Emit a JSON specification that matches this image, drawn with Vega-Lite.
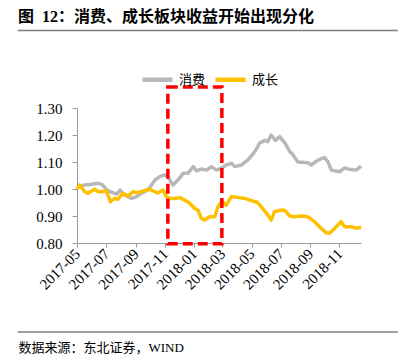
{
  "$schema": "https://vega.github.io/schema/vega-lite/v6.json",
  "width": 284,
  "height": 135,
  "autosize": {"type": "none"},
  "padding": {"left": 77, "top": 108, "right": 48, "bottom": 118},
  "background": "white",
  "title": {
    "text": "图\u00a0\u00a012：消费、成长板块收益开始出现分化",
    "anchor": "start",
    "frame": "group",
    "dx": -59,
    "offset": 5,
    "font": "Liberation Serif, Noto Sans CJK SC",
    "fontSize": 16,
    "fontWeight": "bold",
    "color": "#000000"
  },
  "config": {
    "view": {"stroke": null},
    "axis": {"grid": false, "domainColor": "#9a9a9a", "tickColor": "#9a9a9a", "labelColor": "#000000", "labelFont": "Liberation Serif", "labelFontSize": 15, "labelOverlap": false}
  },
  "data": {
    "values": [
      {"d": "2017/05/01", "s": "消费", "v": 1.005},
      {"d": "2017/05/08", "s": "消费", "v": 1.01},
      {"d": "2017/05/17", "s": "消费", "v": 1.015},
      {"d": "2017/05/31", "s": "消费", "v": 1.018},
      {"d": "2017/06/14", "s": "消费", "v": 1.021},
      {"d": "2017/06/21", "s": "消费", "v": 1.018},
      {"d": "2017/06/26", "s": "消费", "v": 1.01},
      {"d": "2017/07/02", "s": "消费", "v": 0.996},
      {"d": "2017/07/09", "s": "消费", "v": 0.99},
      {"d": "2017/07/16", "s": "消费", "v": 0.986},
      {"d": "2017/07/23", "s": "消费", "v": 0.981},
      {"d": "2017/07/30", "s": "消费", "v": 0.996},
      {"d": "2017/08/05", "s": "消费", "v": 0.985},
      {"d": "2017/08/09", "s": "消费", "v": 0.978},
      {"d": "2017/08/15", "s": "消费", "v": 0.972},
      {"d": "2017/08/23", "s": "消费", "v": 0.965},
      {"d": "2017/09/02", "s": "消费", "v": 0.971},
      {"d": "2017/09/13", "s": "消费", "v": 0.984},
      {"d": "2017/09/23", "s": "消费", "v": 0.994},
      {"d": "2017/09/30", "s": "消费", "v": 1.005},
      {"d": "2017/10/11", "s": "消费", "v": 1.033},
      {"d": "2017/10/21", "s": "消费", "v": 1.046},
      {"d": "2017/10/31", "s": "消费", "v": 1.052},
      {"d": "2017/11/07", "s": "消费", "v": 1.045},
      {"d": "2017/11/11", "s": "消费", "v": 1.033},
      {"d": "2017/11/18", "s": "消费", "v": 1.015},
      {"d": "2017/11/28", "s": "消费", "v": 1.033},
      {"d": "2017/12/09", "s": "消费", "v": 1.058},
      {"d": "2017/12/19", "s": "消费", "v": 1.058},
      {"d": "2017/12/30", "s": "消费", "v": 1.083},
      {"d": "2018/01/06", "s": "消费", "v": 1.067},
      {"d": "2018/01/16", "s": "消费", "v": 1.074},
      {"d": "2018/01/27", "s": "消费", "v": 1.07},
      {"d": "2018/02/06", "s": "消费", "v": 1.083},
      {"d": "2018/02/17", "s": "消费", "v": 1.07},
      {"d": "2018/02/27", "s": "消费", "v": 1.077},
      {"d": "2018/03/09", "s": "消费", "v": 1.089},
      {"d": "2018/03/20", "s": "消费", "v": 1.095},
      {"d": "2018/03/27", "s": "消费", "v": 1.083},
      {"d": "2018/04/10", "s": "消费", "v": 1.089},
      {"d": "2018/04/23", "s": "消费", "v": 1.107},
      {"d": "2018/05/08", "s": "消费", "v": 1.138},
      {"d": "2018/05/18", "s": "消费", "v": 1.17},
      {"d": "2018/05/29", "s": "消费", "v": 1.18},
      {"d": "2018/06/04", "s": "消费", "v": 1.175},
      {"d": "2018/06/11", "s": "消费", "v": 1.2},
      {"d": "2018/06/20", "s": "消费", "v": 1.18},
      {"d": "2018/06/29", "s": "消费", "v": 1.194},
      {"d": "2018/07/10", "s": "消费", "v": 1.17},
      {"d": "2018/07/20", "s": "消费", "v": 1.138},
      {"d": "2018/07/24", "s": "消费", "v": 1.133},
      {"d": "2018/08/06", "s": "消费", "v": 1.1},
      {"d": "2018/08/27", "s": "消费", "v": 1.097},
      {"d": "2018/09/03", "s": "消费", "v": 1.089},
      {"d": "2018/09/17", "s": "消费", "v": 1.107},
      {"d": "2018/10/01", "s": "消费", "v": 1.117},
      {"d": "2018/10/08", "s": "消费", "v": 1.1},
      {"d": "2018/10/15", "s": "消费", "v": 1.07},
      {"d": "2018/11/01", "s": "消费", "v": 1.064},
      {"d": "2018/11/12", "s": "消费", "v": 1.078},
      {"d": "2018/11/24", "s": "消费", "v": 1.072},
      {"d": "2018/12/06", "s": "消费", "v": 1.07},
      {"d": "2018/12/16", "s": "消费", "v": 1.085},
      {"d": "2017/05/01", "s": "成长", "v": 1.0},
      {"d": "2017/05/07", "s": "成长", "v": 1.015},
      {"d": "2017/05/17", "s": "成长", "v": 0.99},
      {"d": "2017/05/24", "s": "成长", "v": 0.984},
      {"d": "2017/06/07", "s": "成长", "v": 0.999},
      {"d": "2017/06/14", "s": "成长", "v": 0.99},
      {"d": "2017/06/24", "s": "成长", "v": 0.99},
      {"d": "2017/07/01", "s": "成长", "v": 0.994},
      {"d": "2017/07/10", "s": "成长", "v": 0.953},
      {"d": "2017/07/19", "s": "成长", "v": 0.965},
      {"d": "2017/07/26", "s": "成长", "v": 0.962},
      {"d": "2017/08/05", "s": "成长", "v": 0.984},
      {"d": "2017/08/16", "s": "成长", "v": 0.974},
      {"d": "2017/08/26", "s": "成长", "v": 0.99},
      {"d": "2017/09/05", "s": "成长", "v": 0.986},
      {"d": "2017/09/19", "s": "成长", "v": 0.994},
      {"d": "2017/09/30", "s": "成长", "v": 0.999},
      {"d": "2017/10/17", "s": "成长", "v": 0.985},
      {"d": "2017/10/28", "s": "成长", "v": 0.996},
      {"d": "2017/11/04", "s": "成长", "v": 0.971},
      {"d": "2017/11/11", "s": "成长", "v": 0.965},
      {"d": "2017/11/21", "s": "成长", "v": 0.965},
      {"d": "2017/12/02", "s": "成长", "v": 0.968},
      {"d": "2017/12/12", "s": "成长", "v": 0.959},
      {"d": "2017/12/23", "s": "成长", "v": 0.947},
      {"d": "2018/01/02", "s": "成长", "v": 0.928},
      {"d": "2018/01/09", "s": "成长", "v": 0.922},
      {"d": "2018/01/16", "s": "成长", "v": 0.891},
      {"d": "2018/01/23", "s": "成长", "v": 0.885},
      {"d": "2018/02/02", "s": "成长", "v": 0.897},
      {"d": "2018/02/13", "s": "成长", "v": 0.897},
      {"d": "2018/02/20", "s": "成长", "v": 0.935},
      {"d": "2018/02/28", "s": "成长", "v": 0.955},
      {"d": "2018/03/09", "s": "成长", "v": 0.94},
      {"d": "2018/03/20", "s": "成长", "v": 0.972},
      {"d": "2018/04/02", "s": "成长", "v": 0.969},
      {"d": "2018/04/17", "s": "成长", "v": 0.965},
      {"d": "2018/05/01", "s": "成长", "v": 0.957},
      {"d": "2018/05/14", "s": "成长", "v": 0.95},
      {"d": "2018/05/24", "s": "成长", "v": 0.928},
      {"d": "2018/06/04", "s": "成长", "v": 0.904},
      {"d": "2018/06/11", "s": "成长", "v": 0.885},
      {"d": "2018/06/18", "s": "成长", "v": 0.916},
      {"d": "2018/07/02", "s": "成长", "v": 0.922},
      {"d": "2018/07/10", "s": "成长", "v": 0.92},
      {"d": "2018/07/20", "s": "成长", "v": 0.9},
      {"d": "2018/07/30", "s": "成长", "v": 0.897},
      {"d": "2018/08/13", "s": "成长", "v": 0.9},
      {"d": "2018/08/27", "s": "成长", "v": 0.897},
      {"d": "2018/09/10", "s": "成长", "v": 0.879},
      {"d": "2018/09/24", "s": "成长", "v": 0.854},
      {"d": "2018/10/04", "s": "成长", "v": 0.838},
      {"d": "2018/10/11", "s": "成长", "v": 0.836},
      {"d": "2018/10/22", "s": "成长", "v": 0.854},
      {"d": "2018/11/04", "s": "成长", "v": 0.879},
      {"d": "2018/11/12", "s": "成长", "v": 0.86},
      {"d": "2018/11/26", "s": "成长", "v": 0.86},
      {"d": "2018/12/06", "s": "成长", "v": 0.855},
      {"d": "2018/12/16", "s": "成长", "v": 0.858}
    ]
  },
  "layer": [
    {
      "mark": {"type": "line", "strokeWidth": 3.5, "strokeJoin": "round"},
      "encoding": {
        "x": {
          "field": "d", "type": "temporal",
          "scale": {"domain": [{"year": 2017, "month": 5, "date": 1}, {"year": 2018, "month": 12, "date": 16}], "nice": false},
          "axis": {
            "format": "%Y-%m",
            "tickCount": {"interval": "month", "step": 2},
            "labelAngle": -45,
            "labelAlign": "right",
            "labelBaseline": "middle",
            "labelOverlap": false,
            "tickSize": 4,
            "labelPadding": 4,
            "title": "数据来源：东北证券，WIND",
            "titleFont": "Liberation Serif, Noto Sans CJK SC",
            "titleFontSize": 13,
            "titleFontWeight": "normal",
            "titleColor": "#000000",
            "titleAlign": "left",
            "titleAnchor": "start",
            "titleBaseline": "middle",
            "titleX": -59,
            "titleY": 104
          }
        },
        "y": {
          "field": "v", "type": "quantitative",
          "scale": {"domain": [0.8, 1.3], "nice": false, "zero": false},
          "axis": {"values": [0.8, 0.9, 1.0, 1.1, 1.2, 1.3], "tickCount": 10, "format": ".2f", "tickSize": 5, "labelPadding": 10, "labelOverlap": false, "labelFlush": false, "labelBound": false, "title": null}
        },
        "color": {
          "field": "s", "type": "nominal",
          "scale": {"domain": ["消费", "成长"], "range": ["#B8B8B8", "#FFC000"]},
          "legend": {
            "title": null,
            "orient": "none",
            "direction": "horizontal",
            "legendX": 63,
            "legendY": -46,
            "symbolType": "stroke",
            "symbolSize": 900,
            "symbolStrokeWidth": 4.5,
            "labelFont": "Noto Sans CJK SC",
            "labelFontSize": 13,
            "labelColor": "#000000",
            "labelOffset": 4,
            "columnPadding": 0
          }
        }
      }
    },
    {
      "data": {"values": [{}]},
      "mark": {"type": "rect", "filled": false, "stroke": "#FF0000", "strokeWidth": 3.5, "strokeDash": [10, 5]},
      "encoding": {
        "x": {"datum": {"year": 2017, "month": 11, "date": 7}, "type": "temporal"},
        "x2": {"datum": {"year": 2018, "month": 2, "date": 28}},
        "y": {"datum": 0.797, "type": "quantitative"},
        "y2": {"datum": 1.378}
      }
    },
    {
      "data": {"values": [{}]},
      "mark": {"type": "rule", "stroke": "#7f7f7f", "strokeWidth": 1.5},
      "encoding": {
        "x": {"datum": {"year": 2016, "month": 12, "date": 28}, "type": "temporal"},
        "x2": {"datum": {"year": 2019, "month": 3, "date": 3}},
        "y": {"datum": 1.587, "type": "quantitative"}
      }
    },
    {
      "data": {"values": [{}]},
      "mark": {"type": "rule", "stroke": "#7f7f7f", "strokeWidth": 1.5},
      "encoding": {
        "x": {"datum": {"year": 2016, "month": 12, "date": 28}, "type": "temporal"},
        "x2": {"datum": {"year": 2019, "month": 3, "date": 3}},
        "y": {"datum": 0.4704, "type": "quantitative"}
      }
    }
  ]
}
